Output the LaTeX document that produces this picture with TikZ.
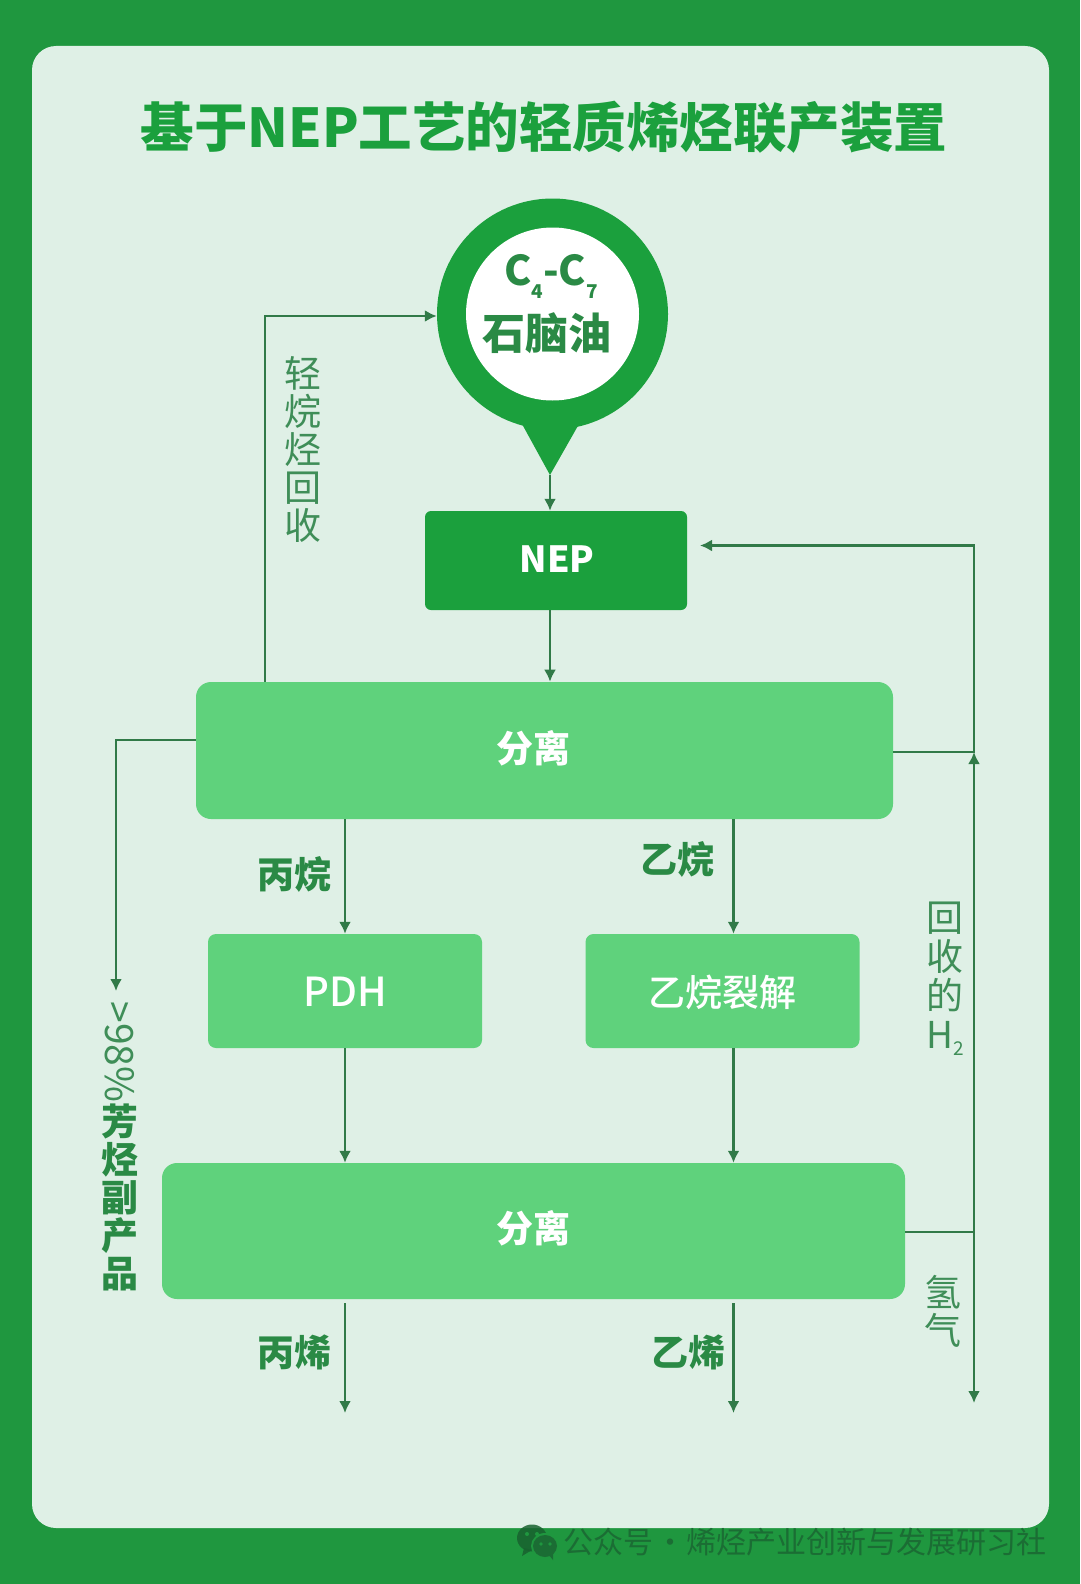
\documentclass[tikz,border=0pt]{standalone}
\usepackage{fontspec}
\setmainfont{Noto Sans CJK SC}
\newfontfamily\heavyfont{Noto Sans CJK SC Black}
\newfontfamily\midfont{Noto Sans CJK SC Medium}
\usetikzlibrary{arrows.meta}
\definecolor{framegreen}{HTML}{1F973F}
\definecolor{cardgreen}{HTML}{DFF0E6}
\definecolor{pingreen}{HTML}{1BA03D}
\definecolor{boxgreen}{HTML}{5FD27C}
\definecolor{linegreen}{HTML}{317A48}
\definecolor{labelgreen}{HTML}{3F8E58}
\definecolor{boldgreen}{HTML}{2A8A45}
\definecolor{markgreen}{HTML}{1B6D34}
\tikzset{
  >={Latex[length=12pt,width=12pt]},
  flow/.style = {draw=linegreen,line width=2.6pt},
  sepbox/.style = {fill=boxgreen,rounded corners=15pt,inner sep=0pt},
  unitbox/.style = {fill=boxgreen,rounded corners=8pt,inner sep=0pt,minimum width=274pt,minimum height=114pt},
  boxtext/.style = {text=white,font=\fontsize{37}{38}\selectfont\bfseries},
  thinlabel/.style = {text=labelgreen,align=center,inner sep=0pt,font=\fontsize{37}{38}\selectfont},
  boldlabel/.style = {text=boldgreen,align=center,inner sep=0pt,font=\fontsize{37}{38}\selectfont\bfseries}
}
\newcommand{\lowsub}[1]{\raisebox{-13pt}{\fontsize{19}{19}\selectfont #1}}

\begin{document}
\begin{tikzpicture}[x=1pt,y=-1pt]
  \useasboundingbox (0,0) rectangle (1080,1584);
  \fill[framegreen] (0,0) rectangle (1080,1584);
  \fill[cardgreen,rounded corners=24pt] (32,46) rectangle (1049,1528);
  \node[text=pingreen,font=\fontsize{53.5}{55}\selectfont\heavyfont] (title) at (544,127) {基于NEP工艺的轻质烯烃联产装置};

  % feed pin
  \coordinate (tip) at (550,475);
  \fill[pingreen] (522,424) -- (tip) -- (579,424) -- cycle;
  \node[circle,fill=pingreen,inner sep=0pt,minimum size=231pt] (pin) at (552.5,314) {};
  \node[circle,fill=white,inner sep=0pt,minimum size=173pt] (feed) at (pin) {};
  \node[boldlabel,font=\fontsize{41}{42}\selectfont\bfseries] (cut) at (551,276) {C\lowsub{4}-C\lowsub{7}};
  \node[boldlabel,font=\fontsize{43}{44}\selectfont\bfseries] (naphtha) at (547,333) {石脑油};

  % units
  \node[fill=pingreen,rounded corners=6pt,inner sep=0pt,minimum width=262pt,minimum height=99pt] (nep) at (556,560.5) {};
  \node[sepbox,minimum width=697pt,minimum height=137pt] (sepa) at (544.5,750.5) {};
  \node[sepbox,minimum width=743pt,minimum height=136pt] (sepb) at (533.5,1231) {};
  \node[unitbox] (pdh) at (345,991) {};
  \node[unitbox] (crack) at (722.5,991) {};
  \node[boxtext,font=\fontsize{36}{38}\selectfont\bfseries] (neptext) at (557,559) {NEP};
  \node[boxtext] (sepatext) at (533,748) {分离};
  \node[boxtext] (sepbtext) at (533,1228) {分离};
  \node[boxtext,font=\fontsize{40}{40}\selectfont\midfont] (pdhtext) at (345,992) {PDH};
  \node[boxtext,font=\fontsize{37}{38}\selectfont\midfont] (cracktext) at (722,992) {乙烷裂解};

  % free ends
  \coordinate (ethane) at (733.5,0);
  \coordinate (hline) at (974,0);
  \coordinate (lightup) at (265,316);
  \coordinate (aroturn) at (116,740);
  \coordinate (aroend) at (116,991);
  \coordinate (propene) at (345,1413);
  \coordinate (ethene) at (733.5,1413);
  \coordinate (hend) at (974,1403);
  \coordinate (hjoin) at (974,752);
  \coordinate (nepback) at (700,545.5);

  \draw[flow,->] (tip) -- (nep.north -| tip);
  \draw[flow,->] (nep.south -| sepa.north) ++(5.5,0) -- ++(0,71.5);
  \draw[flow,->] (sepa.north -| lightup) -- (lightup) -- (pin.west |- lightup);
  \draw[flow,->] (sepa.west |- aroturn) -- (aroturn) -- (aroend);
  \draw[flow,->] (sepa.south -| pdh) -- (pdh.north);
  \draw[flow,->] (sepa.south -| ethane) -- (crack.north -| ethane);
  \draw[flow,->] (pdh.south) -- (sepb.north -| pdh);
  \draw[flow,->] (crack.south -| ethane) -- (sepb.north -| ethane);
  \draw[flow,->] (sepb.south -| propene) ++(0,4) -- (propene);
  \draw[flow,->] (sepb.south -| ethene) ++(0,4) -- (ethene);
  \draw[flow,->] (sepb.east |- 0,1232) -- (hline |- 0,1232) -- (hend);
  \draw[flow,->] (hline |- 0,1232) -- (hjoin);
  \draw[flow,->] (sepa.east |- hjoin) -- (hjoin) -- (hline |- nepback) -- (nepback);

  % labels
  \node[thinlabel] (lightlabel) at (303,449) {轻\\烷\\烃\\回\\收};
  \node[boldlabel] (propane) at (294,874) {丙烷};
  \node[boldlabel] (ethanelabel) at (677,859) {乙烷};
  \node[boldlabel] (propenelabel) at (294,1352) {丙烯};
  \node[boldlabel] (ethenelabel) at (688,1352) {乙烯};
  \node[thinlabel,font=\fontsize{37}{39}\selectfont] (h2label) at (945,979) {回\\收\\的\\H\raisebox{-7pt}{\fontsize{19}{19}\selectfont 2}};
  \node[thinlabel] (hydrogen) at (943,1311) {氢\\气};
  \node[thinlabel,rotate=-90,font=\fontsize{39}{40}\selectfont] (purity) at (120,1052) {>98\%};
  \node[boldlabel] (aromatics) at (120,1197) {芳\\烃\\副\\产\\品};

  % watermark
  \node[text=markgreen,anchor=east,inner sep=0pt,font=\fontsize{30}{32}\selectfont] (mark) at (1047,1542) {公众号\hspace{-5pt} · \hspace{-5pt}烯烃产业创新与发展研习社};
  \fill[markgreen!90!black,opacity=.85] (532,1538) ellipse (15pt and 13.5pt);
  \fill[markgreen!90!black,opacity=.85] (524,1548) -- (522,1556) -- (532,1550) -- cycle;
  \fill[framegreen] (545,1546) ellipse (14pt and 13pt);
  \fill[markgreen] (545,1546) ellipse (12pt and 11pt);
  \fill[markgreen] (549,1555) -- (553,1560) -- (553,1553) -- cycle;
  \fill[framegreen] (527,1534) circle (2pt) (537,1534) circle (2pt) (541,1544) circle (1.8pt) (550,1544) circle (1.8pt);
\end{tikzpicture}
\end{document}
